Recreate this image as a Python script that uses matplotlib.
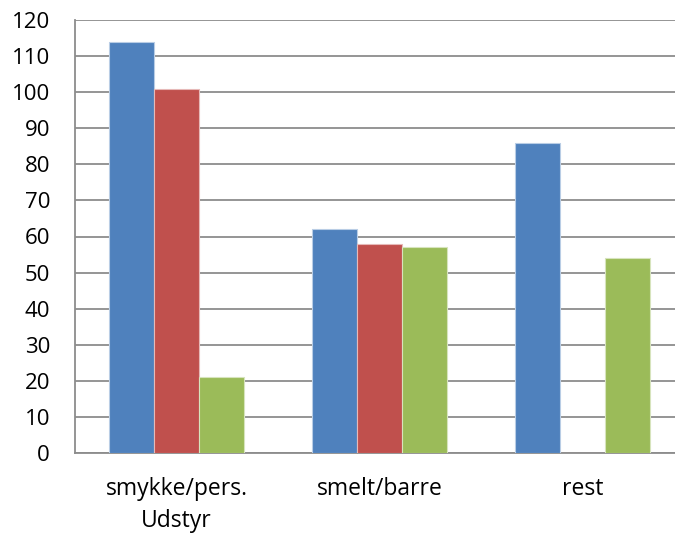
import matplotlib.pyplot as plt
import numpy as np

categories = ['smykke/pers.\nUdstyr', 'smelt/barre', 'rest']
serie_1 = [114, 62, 86]
serie_2 = [101, 58, 0]
serie_3 = [21, 57, 54]

colors = ['#4F81BD', '#C0504D', '#9BBB59']
edges = ['#B9CDE5', '#E6B9B8', '#D7E4BD']

plt.rcParams['font.family'] = ['Open Sans', 'DejaVu Sans']

fig = plt.figure(figsize=(6.75, 5.34), dpi=100)
# plotområdet går ud over højre kant i originalen
ax = fig.add_axes([75 / 675, 81 / 534, 609 / 675, 433 / 534])

x = np.arange(len(categories))
w = 0.222
for i, (vals, c, e) in enumerate(zip([serie_1, serie_2, serie_3], colors, edges)):
    ax.bar(x + (i - 1) * w, vals, w, color=c, edgecolor=e, linewidth=0.8, zorder=3)

ax.set_xlim(-0.5, 2.5)
ax.set_ylim(0, 120)
ax.set_yticks(range(0, 121, 10))
ax.set_xticks(x)
ax.set_xticklabels(categories, fontsize=16.5, linespacing=1.45)
ax.tick_params(axis='y', labelsize=16, length=0, pad=18)
ax.tick_params(axis='x', length=0, pad=17)

ax.grid(axis='y', color='#8C8C8C', linewidth=1.3, zorder=0)
for s in ['top', 'right']:
    ax.spines[s].set_visible(False)
for s in ['left', 'bottom']:
    ax.spines[s].set_color('#8C8C8C')
    ax.spines[s].set_linewidth(1.3)

plt.savefig('out.png', dpi=100)
plt.close(fig)
